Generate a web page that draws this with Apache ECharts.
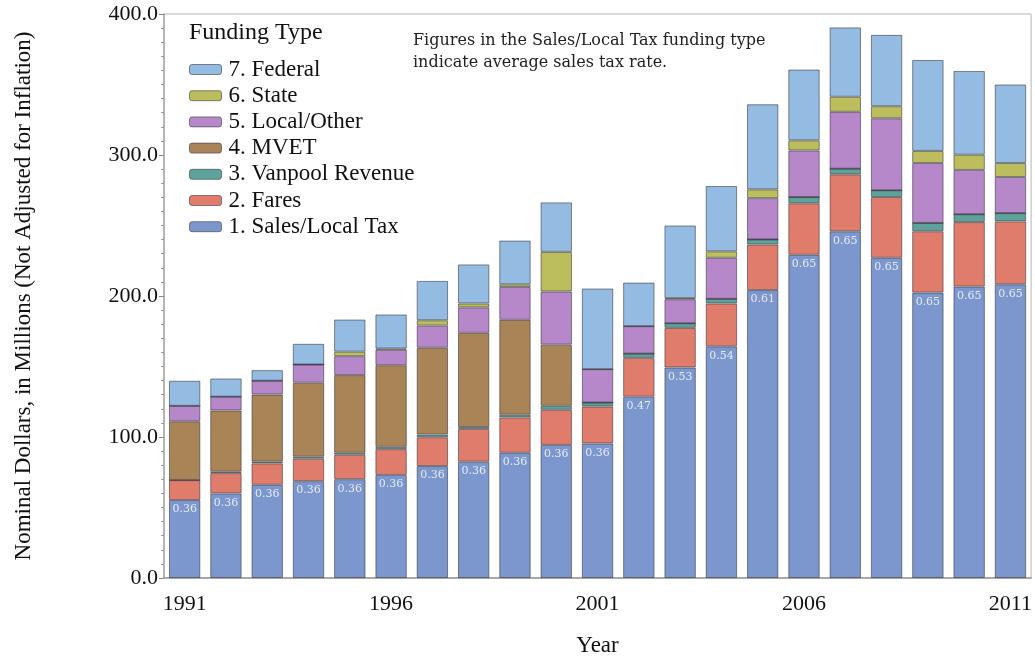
<!DOCTYPE html>
<html><head><meta charset="utf-8">
<script src="https://cdn.jsdelivr.net/npm/echarts@6/dist/echarts.min.js"></script>
<style>html,body{margin:0;padding:0;background:#fff}#c{width:1035px;height:662px}</style>
</head><body><div id="c"></div>
<script>
const years = ['1991','1992','1993','1994','1995','1996','1997','1998','1999','2000','2001','2002','2003','2004','2005','2006','2007','2008','2009','2010','2011'];
const salesTax = [55.3,60.0,66.1,68.7,70.1,73.1,79.4,82.5,88.8,94.4,95.4,128.6,149.3,164.3,204.2,229.2,245.9,227.1,202.4,206.7,208.3];
const fares    = [14.1,14.4,15.2,15.9,17.3,18.3,20.4,23.2,25.1,24.9,26.2,27.5,28.1,30.4,32.3,36.6,40.4,43.1,43.5,45.7,44.6];
const vanpool  = [0,1.0,1.2,1.4,1.4,1.6,1.9,1.4,1.9,2.8,2.8,3.0,3.3,3.3,3.6,4.4,4.0,4.8,5.9,5.6,5.9];
const mvet     = [41.7,43.4,47.6,52.5,55.1,57.9,61.6,66.8,67.3,43.4,0,0,0,0,0,0,0,0,0,0,0];
const localOther = [11.0,9.8,9.8,12.9,13.4,11.0,15.7,18.0,23.3,37.7,23.7,19.5,17.0,29.1,29.3,33.0,40.3,51.0,42.5,31.4,25.6];
const stateFunds = [0,0,0,0,3.2,0.8,3.8,2.8,1.9,28.1,0,0,0.8,4.6,6.2,7.2,10.7,8.6,8.6,10.8,9.9];
const federal  = [17.8,12.9,7.5,14.7,22.8,24.2,27.9,27.7,31.0,35.1,57.2,30.9,51.5,46.3,60.4,50.2,49.2,50.6,64.5,59.4,55.7];
const taxRates = ['0.36','0.36','0.36','0.36','0.36','0.36','0.36','0.36','0.36','0.36','0.36','0.47','0.53','0.54','0.61','0.65','0.65','0.65','0.65','0.65','0.65'];
const seriesNames = ['1. Sales/Local Tax','2. Fares','3. Vanpool Revenue','4. MVET','5. Local/Other','6. State','7. Federal'];
const seriesColors = ['#7b97cd','#e07c6b','#5da39b','#a98457','#b688ca','#bcbd5c','#94bce2'];
const yTicks = [0,100,200,300,400];

const serif = 'Liberation Serif';
const dataSets = [salesTax, fares, vanpool, mvet, localOther, stateFunds, federal];
const series = dataSets.map((d, i) => ({
  name: seriesNames[i], type: 'bar', stack: 'total', data: d, barWidth: '76%',
  itemStyle: { color: seriesColors[i], borderColor: 'rgba(45,45,55,0.55)', borderWidth: 1 },
  emphasis: { disabled: true },
  label: i === 0 ? {
    show: true, position: 'insideTop', distance: 4,
    formatter: p => taxRates[p.dataIndex],
    color: '#e6eaf8', fontFamily: 'DejaVu Serif', fontSize: 11
  } : { show: false }
}));

const chart = echarts.init(document.getElementById('c'));
chart.setOption({
  animation: false,
  backgroundColor: '#fff',
  grid: { left: 164, right: 2, top: 14, bottom: 79, show: true, borderColor: '#b5b5b5', borderWidth: 1, backgroundColor: 'transparent' },
  title: { text: 'Funding Type', left: 184, top: 16, textStyle: { fontFamily: serif, fontSize: 24, fontWeight: 'normal', color: '#111' } },
  legend: {
    orient: 'vertical', left: 184, top: 53,
    data: seriesNames.slice().reverse(),
    icon: 'roundRect', itemWidth: 32, itemHeight: 10, itemGap: 3.2,
    textStyle: { fontFamily: serif, fontSize: 23, color: '#111', lineHeight: 20, padding: [0,0,0,2] },
    itemStyle: { borderColor: 'rgba(60,60,70,0.6)', borderWidth: 1 }
  },
  graphic: [
    { type: 'text', left: 413, top: 30, style: { text: 'Figures in the Sales/Local Tax funding type\nindicate average sales tax rate.', font: '16px "DejaVu Serif"', fill: '#222', lineHeight: 22 } }
  ],
  xAxis: {
    type: 'category', data: years,
    name: 'Year', nameLocation: 'middle', nameGap: 56,
    nameTextStyle: { fontFamily: serif, fontSize: 23, color: '#111' },
    axisLine: { lineStyle: { color: '#a8a8a8', width: 2 } },
    axisTick: { show: false },
    axisLabel: { interval: 4, margin: 15, fontFamily: serif, fontSize: 22, color: '#111' }
  },
  yAxis: {
    type: 'value', min: yTicks[0], max: yTicks[yTicks.length - 1], interval: 100,
    name: 'Nominal Dollars, in Millions (Not Adjusted for Inflation)', nameLocation: 'middle', nameGap: 129,
    nameTextStyle: { fontFamily: serif, fontSize: 23, color: '#111' },
    axisLine: { show: true, lineStyle: { color: '#a8a8a8', width: 1.5 } },
    axisTick: { show: true, length: 5, lineStyle: { color: '#888' } },
    minorTick: { show: true, splitNumber: 10, length: 3, lineStyle: { color: '#999' } },
    splitLine: { show: false },
    axisLabel: { margin: 6, fontFamily: serif, fontSize: 22, color: '#111', formatter: v => v.toFixed(1) }
  },
  series: series
});
</script></body></html>
